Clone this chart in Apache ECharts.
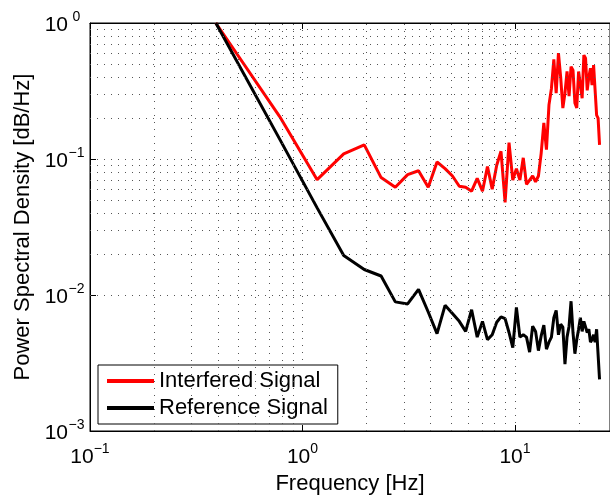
<!DOCTYPE html>
<html>
<head>
<meta charset="utf-8">
<script src="https://cdn.jsdelivr.net/npm/echarts@6/dist/echarts.min.js"></script>
<style>html,body{margin:0;padding:0;background:#fff}#c{width:610px;height:500px}</style>
</head>
<body>
<div id="c"></div>
<script>
var freq = [0.391, 0.781, 1.172, 1.563, 1.953, 2.344, 2.734, 3.125, 3.516, 3.906, 4.297, 4.688, 5.078, 5.469, 5.859, 6.25, 6.641, 7.031, 7.422, 7.813, 8.203, 8.594, 8.984, 9.375, 9.766, 10.156, 10.547, 10.938, 11.328, 11.719, 12.109, 12.5, 12.891, 13.281, 13.672, 14.063, 14.453, 14.844, 15.234, 15.625, 16.016, 16.406, 16.797, 17.188, 17.578, 17.969, 18.359, 18.75, 19.141, 19.531, 19.922, 20.313, 20.703, 21.094, 21.484, 21.875, 22.266, 22.656, 23.047, 23.438, 23.828, 24.219, 24.609, 25.0];
var interfered = [1.0, 0.205, 0.0705, 0.109, 0.127, 0.073, 0.062, 0.0767, 0.082, 0.062, 0.095, 0.085, 0.075, 0.063, 0.062, 0.058, 0.072, 0.058, 0.088, 0.060, 0.090, 0.114, 0.048, 0.132, 0.070, 0.085, 0.070, 0.102, 0.065, 0.070, 0.075, 0.068, 0.075, 0.110, 0.184, 0.117, 0.25, 0.33, 0.54, 0.305, 0.60, 0.40, 0.237, 0.305, 0.44, 0.29, 0.478, 0.45, 0.258, 0.237, 0.44, 0.44, 0.28, 0.58, 0.55, 0.32, 0.40, 0.465, 0.35, 0.49, 0.32, 0.21, 0.20, 0.127];
var reference = [1.0, 0.14, 0.0437, 0.0195, 0.0154, 0.0138, 0.0089, 0.0086, 0.0110, 0.0075, 0.0052, 0.0084, 0.0073, 0.0064, 0.0054, 0.0078, 0.0049, 0.0064, 0.0047, 0.0051, 0.0063, 0.0069, 0.0067, 0.0053, 0.0041, 0.0081, 0.0049, 0.0051, 0.0049, 0.0038, 0.0059, 0.0054, 0.0039, 0.0050, 0.0060, 0.0040, 0.0045, 0.0049, 0.0068, 0.0077, 0.0051, 0.0061, 0.0058, 0.0031, 0.0049, 0.0059, 0.0090, 0.0053, 0.0037, 0.0047, 0.0056, 0.0068, 0.0054, 0.0064, 0.0066, 0.0053, 0.0056, 0.0045, 0.0047, 0.0051, 0.0045, 0.0056, 0.0057, 0.0024];
var xMinorTicks = [0.2, 0.3, 0.4, 0.5, 0.6, 0.7, 0.8, 0.9, 2, 3, 4, 5, 6, 7, 8, 9, 20];
var yMinorTicks = [0.002, 0.003, 0.004, 0.005, 0.006, 0.007, 0.008, 0.009, 0.02, 0.03, 0.04, 0.05, 0.06, 0.07, 0.08, 0.09, 0.2, 0.3, 0.4, 0.5, 0.6, 0.7, 0.8, 0.9];
var xMin = 0.1, xMax = 28, yMin = 0.001, yMax = 1;

var FONT = 'Liberation Sans';
function expLabel(v) {
  var e = Math.round(Math.log10(v));
  if (Math.abs(Math.log10(v) - e) > 1e-6) return '';
  return '{a|10}{b|' + (e < 0 ? '\u2212' + (-e) : '' + e) + '}';
}
var gridStyle = {color: '#555', width: 1, type: [1, 6]};

var chart = echarts.init(document.getElementById('c'), null, {renderer: 'canvas'});
chart.setOption({
  animation: false,
  backgroundColor: '#fff',
  grid: {left: 90, top: 23, right: 0, bottom: 68, show: true, borderColor: '#000', borderWidth: 1, backgroundColor: 'transparent'},
  legend: {
    data: ['Interfered Signal', 'Reference Signal'],
    orient: 'vertical', left: 98, top: 365,
    backgroundColor: '#fff', borderColor: '#000', borderWidth: 1,
    padding: [4, 10, 4, 9], itemGap: 3,
    itemWidth: 47, itemHeight: 4, icon: 'rect',
    textStyle: {fontFamily: FONT, fontSize: 22, color: '#000', lineHeight: 24}
  },
  xAxis: [{
    type: 'log', min: xMin, max: xMax, logBase: 10,
    name: 'Frequency [Hz]', nameLocation: 'middle', nameGap: 42,
    nameTextStyle: {fontFamily: FONT, fontSize: 22, color: '#000'},
    axisLine: {show: true, lineStyle: {color: '#000', width: 1}},
    axisTick: {show: true, inside: true, length: 6, lineStyle: {color: '#000'}},
    axisLabel: {
      margin: 11, showMaxLabel: false, formatter: expLabel,
      rich: {
        a: {fontFamily: FONT, fontSize: 21, color: '#000', lineHeight: 26, verticalAlign: 'bottom'},
        b: {fontFamily: FONT, fontSize: 14, color: '#000', lineHeight: 14, verticalAlign: 'top'}
      }
    },
    splitLine: {show: true, lineStyle: gridStyle}
  }, {
    type: 'log', min: xMin, max: xMax, logBase: 10, position: 'top',
    axisLine: {show: true, lineStyle: {color: '#000', width: 1}},
    axisTick: {show: true, inside: true, length: 6, lineStyle: {color: '#000'}},
    axisLabel: {show: false}, splitLine: {show: false}
  }],
  yAxis: [{
    type: 'log', min: yMin, max: yMax, logBase: 10,
    name: 'Power Spectral Density [dB/Hz]', nameLocation: 'middle', nameGap: 53,
    nameTextStyle: {fontFamily: FONT, fontSize: 22, color: '#000'},
    axisLine: {show: true, lineStyle: {color: '#000', width: 1}},
    axisTick: {show: true, inside: true, length: 6, lineStyle: {color: '#000'}},
    axisLabel: {
      margin: 5, formatter: expLabel,
      rich: {
        a: {fontFamily: FONT, fontSize: 21, color: '#000', lineHeight: 26, verticalAlign: 'bottom'},
        b: {fontFamily: FONT, fontSize: 14, color: '#000', lineHeight: 14, verticalAlign: 'top', width: 17, align: 'left'}
      }
    },
    splitLine: {show: true, lineStyle: gridStyle}
  }],
  series: [{
    name: 'grid', type: 'line', data: [], z: 1, silent: true,
    markLine: {
      silent: true, symbol: 'none', label: {show: false}, animation: false,
      lineStyle: gridStyle,
      data: xMinorTicks.map(function (v) { return {xAxis: v}; })
        .concat(yMinorTicks.map(function (v) { return {yAxis: v}; }))
    }
  }, {
    name: 'Interfered Signal', type: 'line', z: 3, symbol: 'none', showSymbol: false,
    lineStyle: {color: '#ff0000', width: 3}, itemStyle: {color: '#ff0000'},
    data: freq.map(function (f, i) { return [f, interfered[i]]; })
  }, {
    name: 'Reference Signal', type: 'line', z: 4, symbol: 'none', showSymbol: false,
    lineStyle: {color: '#000', width: 3}, itemStyle: {color: '#000'},
    data: freq.map(function (f, i) { return [f, reference[i]]; })
  }]
});
</script>
</body>
</html>
